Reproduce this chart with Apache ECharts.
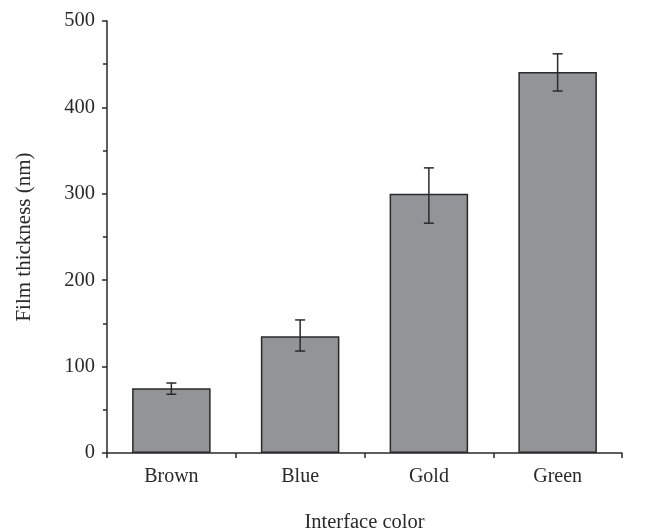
<!DOCTYPE html>
<html>
<head>
<meta charset="utf-8">
<script src="https://cdn.jsdelivr.net/npm/echarts@6/dist/echarts.min.js"></script>
<style>
  html, body { margin: 0; padding: 0; background: #fff; }
  #chart { width: 646px; height: 532px; }
</style>
</head>
<body>
<div id="chart"></div>
<script>
// Film thickness by interface color, mean with error range
const categories = ['Brown', 'Blue', 'Gold', 'Green'];
const thickness = [75, 135, 300, 441];
const errLow = [68, 118, 266, 419];
const errHigh = [81, 154, 330, 462];
const yTicks = [0, 100, 200, 300, 400, 500];

const FONT = '"Liberation Serif", "DejaVu Serif", serif';
const INK = '#2a2a2a';

const chart = echarts.init(document.getElementById('chart'), null, { renderer: 'canvas' });

const errorData = categories.map((c, i) => [i, errLow[i], errHigh[i]]);

chart.setOption({
  animation: false,
  backgroundColor: '#ffffff',
  grid: { left: 107, right: 24, top: 21, bottom: 79, containLabel: false, outerBoundsMode: 'none' },
  xAxis: {
    type: 'category',
    data: categories,
    name: 'Interface color',
    nameLocation: 'middle',
    nameGap: 59,
    nameTextStyle: { fontFamily: FONT, fontSize: 20.5, color: INK },
    axisLine: { lineStyle: { color: INK, width: 1.5 } },
    axisTick: { show: true, length: 5, lineStyle: { color: INK, width: 1.5 } },
    axisLabel: { fontFamily: FONT, fontSize: 20, color: INK, margin: 14 }
  },
  yAxis: {
    type: 'value',
    min: yTicks[0],
    max: yTicks[yTicks.length - 1],
    interval: 100,
    name: 'Film thickness (nm)',
    nameLocation: 'middle',
    nameGap: 72,
    nameTextStyle: { fontFamily: FONT, fontSize: 21, color: INK },
    axisLine: { show: true, lineStyle: { color: INK, width: 1.5 } },
    axisTick: { show: true, length: 5, lineStyle: { color: INK, width: 1.5 } },
    minorTick: { show: true, splitNumber: 2, length: 4, lineStyle: { color: INK, width: 1.5 } },
    splitLine: { show: false },
    axisLabel: { fontFamily: FONT, fontSize: 20.5, color: INK, margin: 12 }
  },
  series: [
    {
      type: 'bar',
      data: thickness,
      barCategoryGap: '39%',
      itemStyle: { color: '#939498', borderColor: '#2a2a2a', borderWidth: 1.5 },
      z: 2
    },
    {
      type: 'custom',
      data: errorData,
      z: 3,
      renderItem: function (params, api) {
        const x = api.value(0);
        const lo = api.coord([x, api.value(1)]);
        const hi = api.coord([x, api.value(2)]);
        const cap = 5;
        const style = { stroke: INK, lineWidth: 1.5 };
        return {
          type: 'group',
          children: [
            { type: 'line', shape: { x1: hi[0], y1: hi[1], x2: lo[0], y2: lo[1] }, style: style },
            { type: 'line', shape: { x1: hi[0] - cap, y1: hi[1], x2: hi[0] + cap, y2: hi[1] }, style: style },
            { type: 'line', shape: { x1: lo[0] - cap, y1: lo[1], x2: lo[0] + cap, y2: lo[1] }, style: style }
          ]
        };
      }
    }
  ]
});
</script>
</body>
</html>
